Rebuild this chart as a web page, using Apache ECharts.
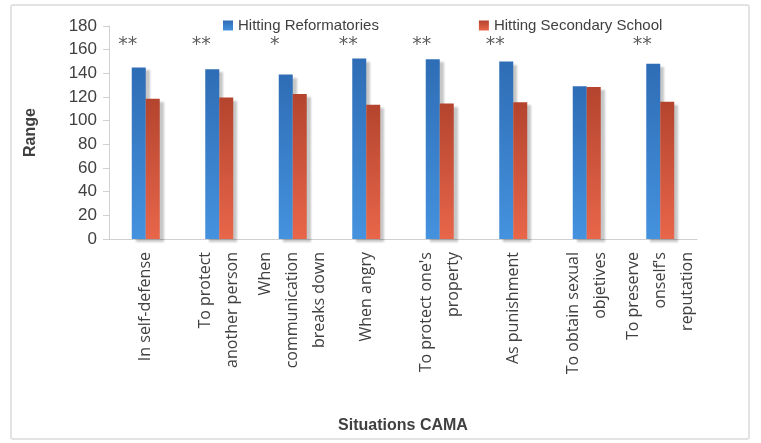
<!DOCTYPE html>
<html>
<head>
<meta charset="utf-8">
<script src="https://cdn.jsdelivr.net/npm/echarts@6/dist/echarts.min.js"></script>
<style>
html,body{margin:0;padding:0;background:#fff;}
#frame{position:absolute;left:10px;top:4px;width:740px;height:436px;border:2px solid #e3e3e3;border-radius:3px;box-sizing:border-box;}
#chart{position:absolute;left:0;top:0;width:761px;height:443px;}
</style>
</head>
<body>
<div id="frame"></div>
<div id="chart"></div>
<script>
const categories = [
  "In self-defense",
  "To protect\nanother person",
  "When\ncommunication\nbreaks down",
  "When angry",
  "To protect one's\nproperty",
  "As punishment",
  "To obtain sexual\nobjetives",
  "To preserve\nonself's\nreputation"
];
const reformatories = [145, 143.5, 139, 152.5, 152, 150, 129, 148];
const secondary = [118.5, 119.5, 122.5, 113.5, 114.5, 115.5, 128.5, 116];
const significance = ["**", "**", "*", "**", "**", "**", "", "**"];
const starLevel = 164;
const yTicks = { min: 0, max: 180, interval: 20 };

const chart = echarts.init(document.getElementById('chart'), null, { renderer: 'canvas' });
const font = "'Liberation Sans', Arial, sans-serif";

function grad(top, bottom) {
  return new echarts.graphic.LinearGradient(0, 0, 0, 1, [
    { offset: 0, color: top },
    { offset: 1, color: bottom }
  ]);
}

chart.setOption({
  animation: false,
  textStyle: { fontFamily: font },
  legend: {
    top: 13,
    left: 218,
    itemWidth: 10,
    itemHeight: 10,
    itemGap: 100,
    icon: 'rect',
    textStyle: { fontSize: 15, color: '#404040', fontFamily: font },
    data: ['Hitting Reformatories', 'Hitting Secondary School']
  },
  grid: { left: 109, right: 64, top: 26, bottom: 204, containLabel: false },
  xAxis: {
    type: 'category',
    data: categories,
    name: 'Situations CAMA',
    nameLocation: 'middle',
    nameGap: 179,
    nameTextStyle: { fontSize: 16, fontWeight: 'bold', color: '#404040', fontFamily: font },
    axisLine: { lineStyle: { color: '#d0d0d0', width: 1 } },
    axisTick: { show: false },
    axisLabel: {
      rotate: 90,
      interval: 0,
      margin: 13,
      fontSize: 16,
      lineHeight: 27,
      color: '#404040',
      fontFamily: "'Open Sans', sans-serif"
    }
  },
  yAxis: {
    type: 'value',
    min: yTicks.min,
    max: yTicks.max,
    interval: yTicks.interval,
    name: 'Range',
    nameLocation: 'middle',
    nameGap: 70,
    nameRotate: 90,
    nameTextStyle: { fontSize: 16, fontWeight: 'bold', color: '#404040', fontFamily: font },
    axisLine: { show: true, lineStyle: { color: '#d0d0d0' } },
    axisTick: { show: true, length: 6, lineStyle: { color: '#d0d0d0' } },
    splitLine: { show: false },
    axisLabel: { fontSize: 17, color: '#404040', margin: 12, fontFamily: font }
  },
  series: [
    {
      name: 'Hitting Reformatories',
      type: 'bar',
      data: reformatories,
      barWidth: 14,
      barGap: '0%',
      itemStyle: {
        color: grad('#2E6DB5', '#4592DE'),
        shadowColor: 'rgba(0,0,0,0.22)',
        shadowBlur: 2,
        shadowOffsetX: 4,
        shadowOffsetY: 3
      }
    },
    {
      name: 'Hitting Secondary School',
      type: 'bar',
      data: secondary,
      barWidth: 14,
      barGap: '0%',
      itemStyle: {
        color: grad('#B4442E', '#E8664A'),
        shadowColor: 'rgba(0,0,0,0.22)',
        shadowBlur: 2,
        shadowOffsetX: 4,
        shadowOffsetY: 3
      }
    },
    {
      name: 'significance',
      type: 'scatter',
      data: significance.map((s, i) => ({ value: [i, starLevel], stars: s })),
      symbolSize: 0,
      silent: true,
      label: {
        show: true,
        position: 'inside',
        offset: [-18, 0],
        formatter: p => p.data.stars,
        fontSize: 19,
        color: '#333',
        fontFamily: "'DejaVu Sans', sans-serif"
      }
    }
  ]
});
</script>
</body>
</html>
